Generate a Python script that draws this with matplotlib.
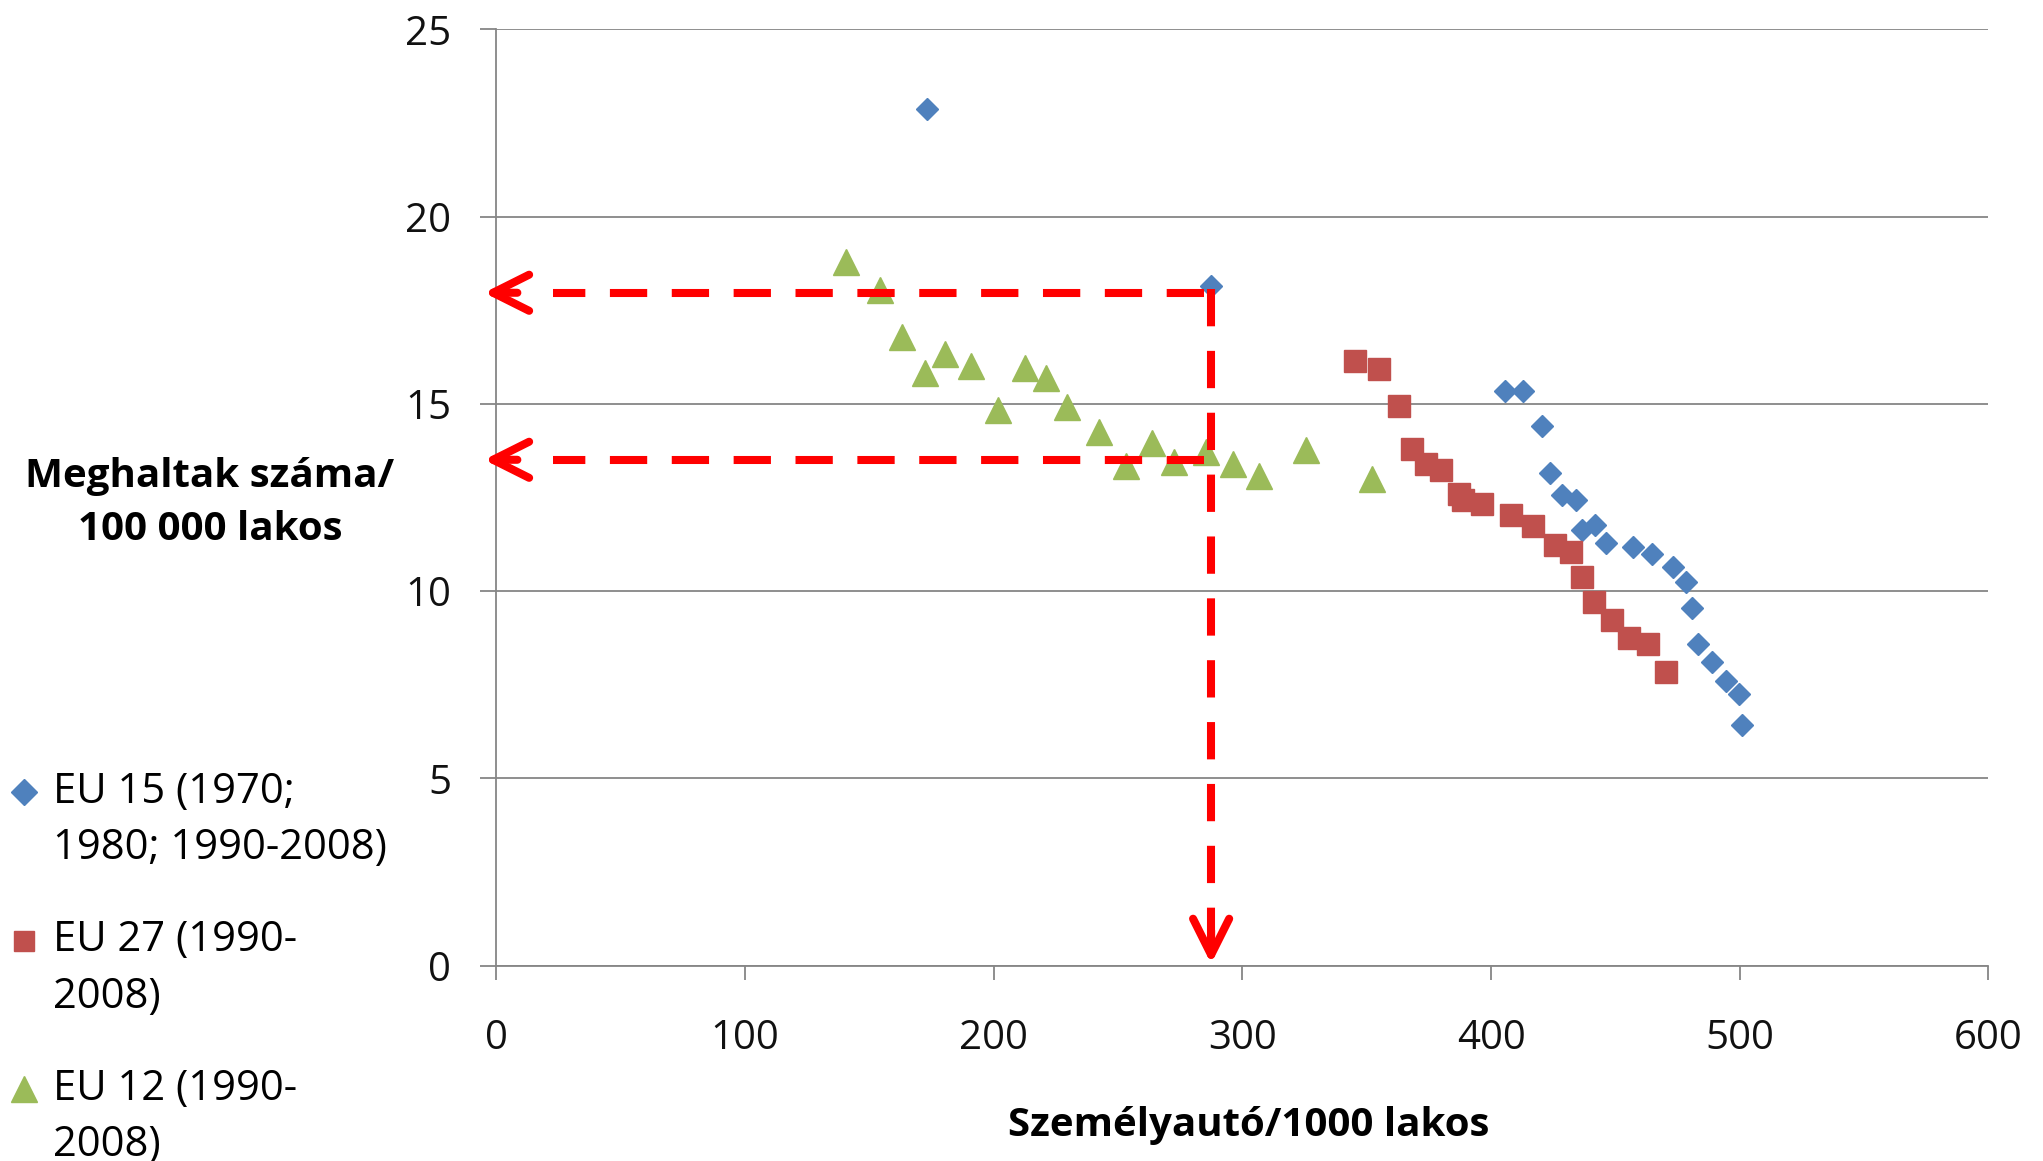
import numpy as np
import matplotlib.pyplot as plt

plt.rcParams['font.family'] = ['Open Sans', 'DejaVu Sans']

# EU 15 (1970; 1980; 1990-2008)
eu15_x = [173, 287.4, 405.5, 412.8, 420.4, 423.8, 428.6, 434.1, 436.6, 441.7, 446.1,
          457.1, 464.8, 473.0, 478.3, 480.6, 483.3, 489.0, 494.3, 499.5, 500.8]
eu15_y = [22.88, 18.15, 15.35, 15.34, 14.40, 13.17, 12.58, 12.44, 11.64, 11.76, 11.29,
          11.18, 11.0, 10.66, 10.24, 9.55, 8.59, 8.12, 7.61, 7.25, 6.43]

# EU 27 (1990-2008)
eu27_x = [345.3, 355.0, 363.0, 368.3, 373.7, 380.0, 387.0, 388.5, 396.5, 408.0,
          416.9, 425.5, 432.2, 436.6, 441.3, 448.6, 455.3, 463.1, 470.3]
eu27_y = [16.16, 15.94, 14.94, 13.81, 13.40, 13.24, 12.60, 12.44, 12.34, 12.04,
          11.75, 11.24, 11.04, 10.38, 9.72, 9.23, 8.74, 8.59, 7.85]

# EU 12 (1990-2008)
eu12_x = [140.7, 154.2, 163.0, 172.3, 180.5, 190.8, 201.8, 212.7, 221.0, 229.6,
          242.2, 253.0, 263.5, 272.5, 285.3, 296.1, 306.6, 325.6, 351.9]
eu12_y = [18.78, 18.04, 16.80, 15.84, 16.33, 16.02, 14.85, 15.96, 15.70, 14.91,
          14.25, 13.35, 13.95, 13.46, 13.71, 13.41, 13.09, 13.76, 13.01]

labels = ['EU 15 (1970;\n1980; 1990-2008)', 'EU 27 (1990-\n2008)', 'EU 12 (1990-\n2008)']

guide_x = 287.4
guide_y = [17.97, 13.51]

grid_c = '#868686'

fig = plt.figure(figsize=(20.43, 11.61), dpi=100)
ax = fig.add_axes([0.243, 0.1682, 0.7303, 0.8064])

h1, = ax.plot(eu15_x, eu15_y, ls='none', marker='D', ms=11.5, color='#4F81BD', mec='#4F81BD')
h2, = ax.plot(eu27_x, eu27_y, ls='none', marker='s', ms=15.8, color='#C0504D', mec='#C0504D')
h3, = ax.plot(eu12_x, eu12_y, ls='none', marker='^', ms=18.5, color='#9BBB59', mec='#9BBB59')

ax.set_xlim(0, 600)
ax.set_ylim(0, 25)
ax.set_xticks(range(0, 601, 100))
ax.set_yticks(range(0, 26, 5))
ax.grid(axis='y', color=grid_c, lw=1.3)
ax.set_axisbelow(True)
for s in ['top', 'right']:
    ax.spines[s].set_visible(False)
for s in ['left', 'bottom']:
    ax.spines[s].set_color(grid_c)
    ax.spines[s].set_linewidth(1.3)
ax.tick_params(axis='x', direction='out', length=10, width=1.3, color=grid_c,
               labelsize=29, labelcolor='#111111', pad=28)
ax.tick_params(axis='y', direction='out', length=11.5, width=1.3, color=grid_c,
               labelsize=29, labelcolor='#111111', pad=21)

# red dashed guides with open arrow heads
red = '#FF0000'
lw = 5.8
dash = (0, (4.63, 3.05))
arrow = dict(arrowstyle='->,head_length=2.6,head_width=1.3', color=red, lw=lw,
             shrinkA=0, shrinkB=0)
for gy in guide_y:
    ax.plot([284.6, 22.6], [gy, gy], color=red, lw=lw, ls=dash, zorder=5, clip_on=False)
    ax.annotate('', xy=(-5, gy), xytext=(24, 0), textcoords='offset points',
                arrowprops=arrow, zorder=5, annotation_clip=False)
ax.plot([guide_x, guide_x], [18.07, 0.6], color=red, lw=lw, ls=dash, zorder=5, clip_on=False)
ax.annotate('', xy=(guide_x, 0.05), xytext=(0, 24), textcoords='offset points',
            arrowprops=arrow, zorder=5, annotation_clip=False)

ax.set_xlabel('Személyautó/1000 lakos', fontsize=29, fontweight='bold', va='baseline')
ax.xaxis.set_label_coords(0.504, -0.1823)
ax.set_ylabel('Meghaltak száma/\n100 000 lakos', fontsize=29, fontweight='bold',
              rotation=0, ha='center', va='center', multialignment='center', linespacing=1.48)
ax.yaxis.set_label_coords(-0.192, 0.4943)

leg = ax.legend([h1, h2, h3], labels, loc='upper left', bbox_to_anchor=(0.0, 1 - 771 / 1161),
                bbox_transform=fig.transFigure, frameon=False, fontsize=30, numpoints=1,
                handlelength=1.16, handletextpad=0.12, borderpad=0, borderaxespad=0,
                labelspacing=1.2)
for t in leg.get_texts():
    t.set_linespacing(1.45)
for lh in leg.legend_handles:
    lh.set_ydata(np.asarray(lh.get_ydata()) + 21)
leg.legend_handles[0].set_markersize(13)
leg.legend_handles[1].set_markersize(15)
leg.legend_handles[2].set_markersize(19)

fig.savefig('out.png', dpi=100)
